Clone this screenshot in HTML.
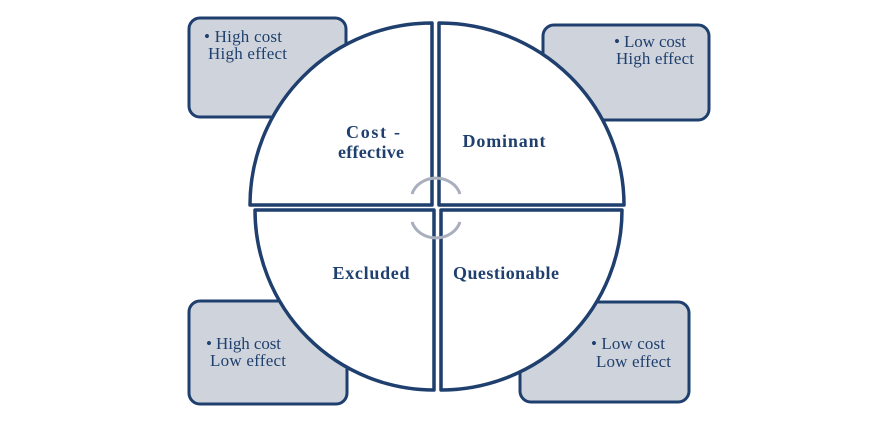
<!DOCTYPE html>
<html><head><style>body{margin:0;background:#fff}svg{display:block}</style></head><body>
<svg width="872" height="421" viewBox="0 0 872 421" xmlns="http://www.w3.org/2000/svg" font-family="Liberation Serif, serif">
<g fill="#cfd4dc" stroke="#1f3f6e" stroke-width="3">
<rect x="189" y="18" width="157" height="99" rx="11"/>
<rect x="543" y="25" width="166" height="95" rx="11"/>
<rect x="189" y="301" width="158" height="103" rx="11"/>
<rect x="520" y="302" width="169" height="100" rx="11"/>
</g>
<g fill="#1f3f6e" font-size="17" lengthAdjust="spacingAndGlyphs">
<text x="204" y="42" textLength="78">• High cost</text><text x="208" y="59" textLength="79">High effect</text>
<text x="614" y="47" textLength="72">• Low cost</text><text x="616" y="64" textLength="78">High effect</text>
<text x="206" y="349" textLength="75">• High cost</text><text x="210" y="366" textLength="76">Low effect</text>
<text x="591" y="349" textLength="74">• Low cost</text><text x="596" y="367" textLength="75">Low effect</text>
</g>
<g fill="#fff" stroke="#1f3f6e" stroke-width="3.5" stroke-linejoin="round">
<path d="M432 205 L250 205 A182 182 0 0 1 432 23 Z"/>
<path d="M439 205 L439 23 A185 182 0 0 1 624 205 Z"/>
<path d="M434 210 L255 210 A179 180 0 0 0 434 390 Z"/>
<path d="M441 210 L622 210 A181 180 0 0 1 441 390 Z"/>
</g>
<g fill="none" stroke="#a9afbd" stroke-width="3">
<path d="M412 194 A25 22 0 0 1 460 194"/>
<path d="M412 222 A25 22 0 0 0 460 222"/>
</g>
<g fill="#1f3f6e" font-size="18" font-weight="bold" text-anchor="middle" lengthAdjust="spacingAndGlyphs">
<text x="373" y="138" textLength="54">Cost -</text><text x="371" y="158" textLength="66">effective</text>
<text x="504" y="147" textLength="83">Dominant</text>
<text x="371" y="279" textLength="77">Excluded</text>
<text x="506" y="279" textLength="106">Questionable</text>
</g>
</svg>
</body></html>
